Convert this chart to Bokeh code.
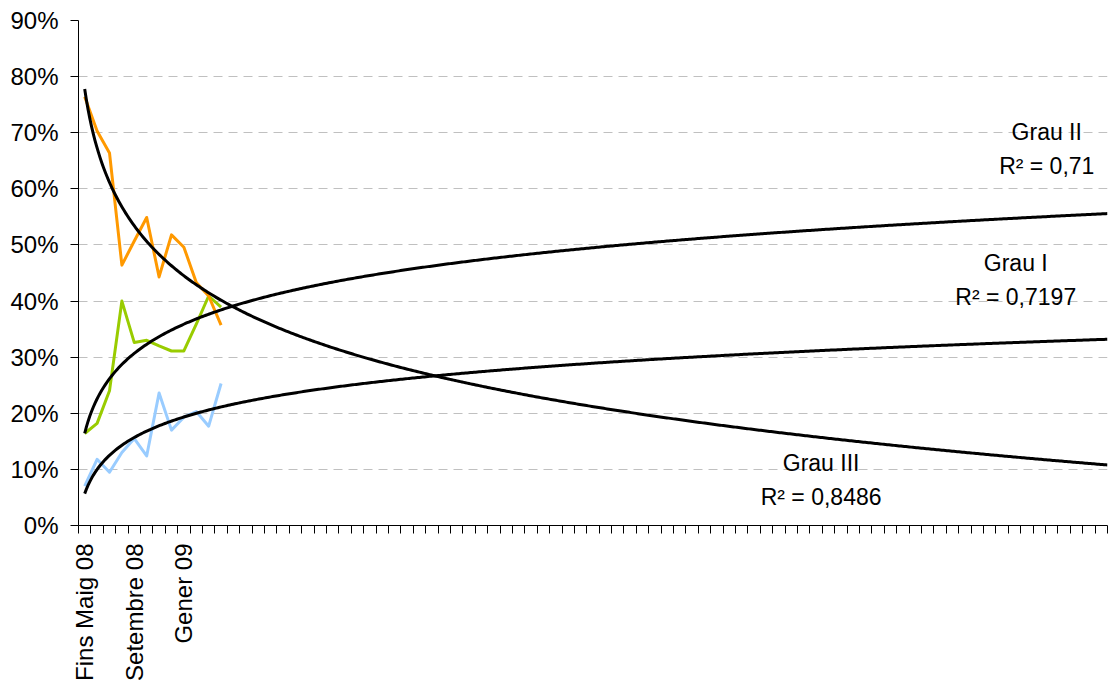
import numpy as np
from bokeh.plotting import figure
from bokeh.models import Range1d, FixedTicker, NumeralTickFormatter
from bokeh.core.properties import value
from bokeh.embed import file_html
from bokeh.resources import INLINE

# ---------------- data ----------------
n_categories = 83                      # monthly categories on the x axis
tick_labels = {0: "Fins Maig 08", 4: "Setembre 08", 8: "Gener 09"}
months = list(range(12))               # observed months (index of category)

grau_i = [0.070, 0.118, 0.095, 0.130, 0.155, 0.124, 0.236, 0.170, 0.193, 0.203, 0.177, 0.253]
grau_ii = [0.164, 0.182, 0.240, 0.400, 0.326, 0.330, 0.320, 0.311, 0.311, 0.359, 0.409, 0.389]
grau_iii = [0.764, 0.703, 0.664, 0.464, 0.507, 0.549, 0.443, 0.518, 0.496, 0.433, 0.409, 0.357]

series_names = ["Grau I", "Grau II", "Grau III"]
r2_labels = ["R² = 0,7197", "R² = 0,71", "R² = 0,8486"]
trend_forward_end = 83.5               # trendline forecast reaches this period
y_ticks = [0.0, 0.1, 0.2, 0.3, 0.4, 0.5, 0.6, 0.7, 0.8, 0.9]

FONT = "Liberation Sans"

p = figure(width=1108, height=685, output_backend="svg", toolbar_location=None,
           x_range=Range1d(-0.5, n_categories - 0.5), y_range=Range1d(0, 0.9),
           min_border_left=78, min_border_right=1, min_border_top=20,
           min_border_bottom=160)
p.outline_line_color = None
p.background_fill_color = "white"
p.border_fill_color = "white"

# grid
p.xgrid.visible = False
p.ygrid.ticker = FixedTicker(ticks=y_ticks)
p.ygrid.grid_line_color = "#c0c0c0"
p.ygrid.grid_line_dash = "9 6"
p.ygrid.grid_line_width = 1

# y axis
p.yaxis.ticker = FixedTicker(ticks=y_ticks)
p.yaxis.formatter = NumeralTickFormatter(format="0%")
p.yaxis.major_label_text_font = FONT
p.yaxis.major_label_text_font_size = "24px"
p.yaxis.major_label_text_color = "black"
p.yaxis.major_tick_out = 8
p.yaxis.major_tick_in = 0
p.yaxis.minor_tick_line_color = None
p.yaxis.axis_line_color = "black"
p.yaxis.major_tick_line_color = "black"
p.yaxis.major_label_standoff = 12

# x axis: tick marks at category boundaries, labels at category centres
p.xaxis.ticker = FixedTicker(ticks=list(tick_labels.keys()),
                             minor_ticks=[i - 0.5 for i in range(n_categories + 1)])
p.xaxis.major_label_overrides = {k: v for k, v in tick_labels.items()}
p.xaxis.major_label_orientation = np.pi / 2
p.xaxis.major_label_text_font = FONT
p.xaxis.major_label_text_font_size = "24px"
p.xaxis.major_label_text_color = "black"
p.xaxis.major_tick_line_color = None
p.xaxis.major_tick_out = 8
p.xaxis.major_tick_in = 0
p.xaxis.minor_tick_out = 8
p.xaxis.minor_tick_in = 0
p.xaxis.minor_tick_line_color = "black"
p.xaxis.axis_line_color = "black"
p.xaxis.major_label_standoff = 10

# data series
colors = ["#99CCFF", "#99CC00", "#FF9900"]
all_series = [grau_i, grau_ii, grau_iii]
for ys, c in zip(all_series, colors):
    p.line(months, ys, line_color=c, line_width=3, line_join="round")

# logarithmic trendlines fitted on the observed data (as in the spreadsheet)
period = np.array(months) + 1.0
tx = np.linspace(1.0, trend_forward_end, 600)
for ys in all_series:
    a, b = np.polyfit(np.log(period), np.array(ys), 1)
    p.line(tx - 1.0, a * np.log(tx) + b, line_color="black", line_width=3,
           line_join="round")

# trendline labels
label_pos = [(75.1, 0.468, 0.407), (77.6, 0.701, 0.641), (59.4, 0.111, 0.051)]
for name, r2, (lx, ly1, ly2) in zip(series_names, r2_labels, label_pos):
    p.text([lx], [ly1], text=[name], text_font=value(FONT), text_font_size="23px",
           text_align="center", text_baseline="middle", text_color="black")
    p.text([lx], [ly2], text=[r2], text_font=value(FONT), text_font_size="23px",
           text_align="center", text_baseline="middle", text_color="black")

open("out.html", "w").write(file_html(p, INLINE))
